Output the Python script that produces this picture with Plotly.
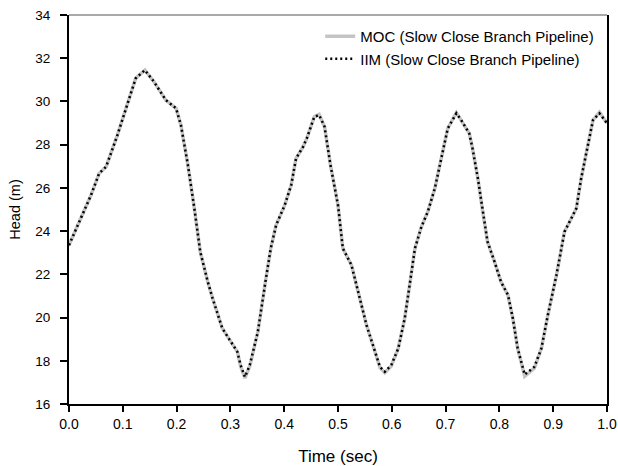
import plotly.graph_objects as go

# Time (sec)
time = [0.000, 0.022, 0.041, 0.056, 0.069, 0.090, 0.108, 0.124, 0.141, 0.158,
        0.180, 0.199, 0.208, 0.221, 0.233, 0.244, 0.258, 0.267, 0.285, 0.304,
        0.313, 0.319, 0.327, 0.336, 0.351, 0.366, 0.375, 0.385, 0.401, 0.413,
        0.422, 0.435, 0.442, 0.456, 0.465, 0.475, 0.486, 0.500, 0.509, 0.525,
        0.537, 0.553, 0.565, 0.578, 0.587, 0.599, 0.612, 0.624, 0.634, 0.643,
        0.655, 0.667, 0.680, 0.692, 0.704, 0.720, 0.729, 0.744, 0.750, 0.760,
        0.769, 0.778, 0.791, 0.803, 0.816, 0.825, 0.834, 0.847, 0.865, 0.878,
        0.890, 0.906, 0.921, 0.934, 0.943, 0.952, 0.965, 0.974, 0.986, 1.000]

# Head (m) - IIM
head_iim = [23.35, 24.59, 25.67, 26.67, 26.98, 28.44, 29.83, 31.07, 31.45, 30.91,
            30.06, 29.68, 28.91, 27.06, 25.05, 23.04, 21.65, 20.88, 19.50, 18.72,
            18.41, 17.80, 17.25, 17.80, 19.34, 21.80, 23.20, 24.28, 25.20, 26.13,
            27.36, 27.90, 28.29, 29.29, 29.37, 28.83, 27.06, 25.20, 23.20, 22.43,
            21.19, 19.65, 18.72, 17.72, 17.49, 17.80, 18.57, 19.96, 21.65, 23.20,
            24.20, 24.90, 25.98, 27.36, 28.75, 29.45, 29.14, 28.52, 27.83, 26.44,
            24.90, 23.50, 22.58, 21.65, 21.04, 19.96, 18.57, 17.36, 17.72, 18.57,
            20.11, 21.96, 23.97, 24.59, 25.05, 26.44, 28.13, 29.14, 29.45, 28.99]

# Head (m) - MOC
head_moc = [23.35, 24.59, 25.67, 26.67, 26.98, 28.44, 29.83, 31.07, 31.45, 30.91,
            30.06, 29.68, 28.91, 27.06, 25.05, 23.04, 21.65, 20.88, 19.50, 18.72,
            18.41, 17.75, 17.20, 17.75, 19.34, 21.80, 23.20, 24.28, 25.20, 26.13,
            27.36, 27.90, 28.29, 29.29, 29.40, 28.83, 27.06, 25.20, 23.20, 22.43,
            21.19, 19.65, 18.72, 17.68, 17.45, 17.76, 18.57, 19.96, 21.65, 23.20,
            24.20, 24.90, 25.98, 27.36, 28.75, 29.48, 29.14, 28.52, 27.83, 26.44,
            24.90, 23.50, 22.58, 21.65, 21.04, 19.96, 18.57, 17.28, 17.66, 18.57,
            20.11, 21.96, 23.97, 24.59, 25.05, 26.44, 28.13, 29.14, 29.50, 28.99]

x_ticks = [0.0, 0.1, 0.2, 0.3, 0.4, 0.5, 0.6, 0.7, 0.8, 0.9, 1.0]
y_ticks = [16, 18, 20, 22, 24, 26, 28, 30, 32, 34]

fig = go.Figure()
fig.add_trace(go.Scatter(x=time, y=head_moc, mode="lines",
                         name="MOC (Slow Close Branch Pipeline)",
                         line=dict(color="#c4c4c4", width=3.5)))
fig.add_trace(go.Scatter(x=time, y=head_iim, mode="lines",
                         name="IIM (Slow Close Branch Pipeline)",
                         line=dict(color="black", width=2.5, dash="2px,3px")))

font = "Liberation Sans, Arial, sans-serif"
fig.update_layout(
    width=618, height=466,
    margin=dict(l=69, r=11, t=15, b=62, autoexpand=False),
    paper_bgcolor="white", plot_bgcolor="white",
    font=dict(family=font, size=12, color="black"),
    showlegend=True,
    legend=dict(x=0.467, y=0.987, xanchor="left", yanchor="top",
                bgcolor="rgba(0,0,0,0)", font=dict(size=15, color="black"),
                borderwidth=0),
    xaxis=dict(range=[0, 1], tickvals=x_ticks, automargin=False,
               ticktext=[f"{v:.1f}" for v in x_ticks],
               tickfont=dict(size=14), ticklabeloverflow="allow",
               showline=True, linewidth=2, linecolor="black",
               ticks="outside", ticklen=6, tickwidth=2, tickcolor="black",
               showgrid=False, zeroline=False,
               title=dict(text="Time (sec)", font=dict(size=17), standoff=21)),
    yaxis=dict(range=[16, 34], tickvals=y_ticks, automargin=False,
               tickfont=dict(size=13.5), ticklabelstandoff=7,
               ticklabeloverflow="allow",
               showline=True, linewidth=2, linecolor="black", mirror=True,
               ticks="outside", ticklen=7, tickwidth=2, tickcolor="black",
               showgrid=False, zeroline=False,
               title=dict(text="Head (m)", font=dict(size=14.5), standoff=11)),
    shapes=[dict(type="line", xref="paper", yref="paper", x0=0, x1=1, y0=1, y1=1,
                 line=dict(color="#555555", width=1))],
)

fig.write_html("out.html", config={"displayModeBar": False},
               post_script="document.body.style.margin='0';document.body.style.overflow='hidden';")
